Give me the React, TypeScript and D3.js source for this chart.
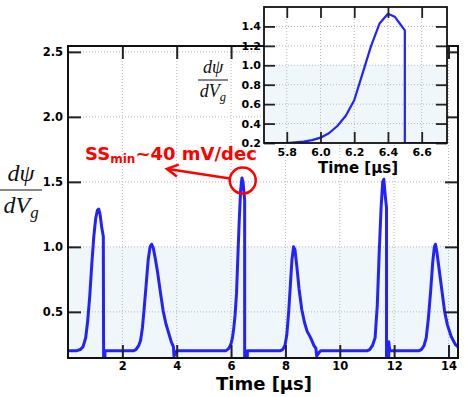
import React, { useEffect, useRef } from "react";
import * as d3 from "d3";

// main trace: time [us] and dpsi/dVg
const mainTime = [
  0, 0.3, 0.45, 0.55, 0.65, 0.72, 0.8, 0.88, 0.95, 1.02, 1.08, 1.13, 1.18, 1.24, 1.3, 1.31, 1.36, 1.36,
  2.4, 2.5, 2.6, 2.67, 2.74, 2.8, 2.88, 2.95, 3.02, 3.08, 3.14, 3.22, 3.3, 3.4, 3.5, 3.6, 3.7, 3.8, 3.88, 3.9, 3.95, 4.0,
  5.8, 5.9, 5.95, 6.0, 6.05, 6.1, 6.15, 6.2, 6.25, 6.3, 6.35, 6.4, 6.44, 6.47, 6.5, 6.5, 6.6, 6.6,
  7.8, 7.9, 7.98, 8.05, 8.12, 8.18, 8.24, 8.3, 8.35, 8.42, 8.5, 8.6, 8.7, 8.8, 8.93, 9.05, 9.12, 9.15, 9.25, 9.3,
  11.0, 11.1, 11.2, 11.3, 11.38, 11.45, 11.52, 11.58, 11.62, 11.67, 11.72, 11.72, 11.8, 11.8, 11.84,
  12.9, 13.0, 13.1, 13.18, 13.26, 13.34, 13.42, 13.48, 13.52, 13.58, 13.66, 13.76, 13.86, 13.96, 14.1, 14.25, 14.4,
];
const mainDpsi = [
  0.2, 0.2, 0.21, 0.23, 0.3, 0.42, 0.62, 0.88, 1.08, 1.22, 1.28, 1.29, 1.25, 1.15, 1.08, 0.15, 0.15, 0.2,
  0.2, 0.21, 0.24, 0.28, 0.38, 0.52, 0.72, 0.9, 1.0, 1.02, 0.99, 0.9, 0.8, 0.65, 0.51, 0.41, 0.34, 0.27, 0.23, 0.16, 0.18, 0.2,
  0.2, 0.215, 0.23, 0.255, 0.3, 0.375, 0.48, 0.64, 0.92, 1.2, 1.43, 1.53, 1.5, 1.43, 1.36, 0.15, 0.15, 0.2,
  0.2, 0.21, 0.24, 0.32, 0.5, 0.7, 0.9, 1.0, 0.98, 0.85, 0.68, 0.52, 0.42, 0.35, 0.3, 0.24, 0.22, 0.16, 0.19, 0.2,
  0.2, 0.21, 0.24, 0.3, 0.55, 0.95, 1.3, 1.5, 1.52, 1.4, 1.3, 0.15, 0.15, 0.27, 0.2,
  0.2, 0.21, 0.24, 0.3, 0.45, 0.65, 0.88, 1.0, 1.02, 0.95, 0.82, 0.66, 0.5, 0.4, 0.31, 0.25, 0.22,
];

// zoomed trace around the 6.4 us peak
const insetTime = [5.665, 5.8, 5.9, 5.95, 6.0, 6.05, 6.1, 6.15, 6.2, 6.25, 6.3, 6.35, 6.4, 6.44, 6.47, 6.5, 6.5, 6.75];
const insetDpsi = [0.2, 0.2, 0.215, 0.23, 0.255, 0.3, 0.375, 0.48, 0.64, 0.92, 1.2, 1.43, 1.53, 1.5, 1.43, 1.36, 0.2, 0.2];

const mainXTicks = [2, 4, 6, 8, 10, 12, 14];
const mainYTicks = [0.5, 1.0, 1.5, 2.0, 2.5];
const insetXTicks = [5.8, 6.0, 6.2, 6.4, 6.6];
const insetYTicks = [0.2, 0.4, 0.6, 0.8, 1.0, 1.2, 1.4];
const shadeLevel = 1.0;

// annotation: circled point, arrow tip, label anchor (data coords)
const circledPoint = [6.43, 1.51];
const arrowTip = [3.64, 1.6];
const labelAnchor = [0.63, 1.668];

const W = 466;
const H = 397;
const blue = "#2222ff";

function drawPanel(root, o) {
  const x = d3.scaleLinear().domain(o.xDomain).range([o.left, o.right]);
  const y = d3.scaleLinear().domain(o.yDomain).range([o.bottom, o.top]);
  const g = root.append("g");

  g.append("rect")
    .attr("x", o.left).attr("y", o.top)
    .attr("width", o.right - o.left).attr("height", o.bottom - o.top)
    .attr("fill", "#fff");

  // light shading below 1.0
  g.append("rect")
    .attr("x", o.left).attr("y", y(shadeLevel))
    .attr("width", o.right - o.left).attr("height", o.bottom - y(shadeLevel))
    .attr("fill", "#eff7fa");

  // dotted grid
  g.selectAll(".gx").data(o.xTicks).enter().append("line")
    .attr("x1", (d) => x(d)).attr("x2", (d) => x(d))
    .attr("y1", o.top).attr("y2", o.bottom)
    .attr("stroke", "#b8b8b8").attr("stroke-dasharray", "1,2");
  g.selectAll(".gy").data(o.yTicks).enter().append("line")
    .attr("x1", o.left).attr("x2", o.right)
    .attr("y1", (d) => y(d)).attr("y2", (d) => y(d))
    .attr("stroke", "#b8b8b8").attr("stroke-dasharray", "1,2");

  const clipId = "clip" + o.id;
  g.append("clipPath").attr("id", clipId).append("rect")
    .attr("x", o.left).attr("y", o.top)
    .attr("width", o.right - o.left).attr("height", o.bottom - o.top);

  const line = d3.line()
    .x((d) => x(d[0]))
    .y((d) => y(d[1]));
  g.append("path")
    .datum(o.t.map((t, i) => [t, o.v[i]]))
    .attr("clip-path", `url(#${clipId})`)
    .attr("d", line)
    .attr("fill", "none")
    .attr("stroke", blue)
    .attr("stroke-width", o.lw)
    .attr("stroke-linejoin", "round");

  const styleAxis = (sel) => {
    sel.select(".domain").remove();
    sel.selectAll("line").attr("stroke", "#222").attr("stroke-width", o.tw);
    sel.selectAll("text")
      .attr("font-family", "DejaVu Sans")
      .attr("font-weight", "bold")
      .attr("font-size", o.fs)
      .attr("fill", "#000");
  };

  g.append("g").attr("transform", `translate(0,${o.bottom})`)
    .call(d3.axisBottom(x).tickValues(o.xTicks).tickSize(-o.tl).tickPadding(o.padX).tickFormat(o.xFmt))
    .call(styleAxis);
  g.append("g").attr("transform", `translate(0,${o.top})`)
    .call(d3.axisTop(x).tickValues(o.xTicks).tickSize(-o.tl).tickFormat(() => ""))
    .call(styleAxis);
  g.append("g").attr("transform", `translate(${o.left},0)`)
    .call(d3.axisLeft(y).tickValues(o.yTicks).tickSize(-o.tl).tickPadding(o.padY).tickFormat(d3.format(".1f")))
    .call(styleAxis);
  g.append("g").attr("transform", `translate(${o.right},0)`)
    .call(d3.axisRight(y).tickValues(o.yTicks).tickSize(-o.tl).tickFormat(() => ""))
    .call(styleAxis);

  g.append("rect")
    .attr("x", o.left).attr("y", o.top)
    .attr("width", o.right - o.left).attr("height", o.bottom - o.top)
    .attr("fill", "none").attr("stroke", "#111").attr("stroke-width", o.fw);

  return { x, y };
}

function fracLabel(root, cx, yNum, yLine, yDen, halfW, fs) {
  const g = root.append("g")
    .attr("font-family", "Liberation Serif")
    .attr("font-style", "italic")
    .attr("font-size", fs)
    .attr("fill", "#111");
  g.append("text").attr("x", cx).attr("y", yNum).attr("text-anchor", "middle").text("dψ");
  g.append("line")
    .attr("x1", cx - halfW).attr("x2", cx + halfW)
    .attr("y1", yLine).attr("y2", yLine)
    .attr("stroke", "#111").attr("stroke-width", 1);
  const den = g.append("text").attr("x", cx).attr("y", yDen).attr("text-anchor", "middle");
  den.append("tspan").text("dV");
  den.append("tspan").attr("font-size", fs * 0.7).attr("dy", fs * 0.22).text("g");
}

export default function App() {
  const ref = useRef(null);

  useEffect(() => {
    const svg = d3.select(ref.current);
    svg.selectAll("*").remove();

    const main = drawPanel(svg, {
      id: "main", left: 68, right: 458, top: 46, bottom: 358,
      xDomain: [0, 14.35], yDomain: [0.145, 2.545],
      xTicks: mainXTicks, yTicks: mainYTicks, xFmt: d3.format("d"),
      t: mainTime, v: mainDpsi, lw: 3, tl: 13, tw: 2, fw: 2, fs: 11.5, padX: 4, padY: 5,
    });

    fracLabel(svg, 21, 181, 190, 213, 21, 24);

    svg.append("text")
      .attr("x", 264).attr("y", 390)
      .attr("text-anchor", "middle")
      .attr("font-family", "DejaVu Sans").attr("font-weight", "bold").attr("font-size", 18)
      .text("Time [μs]");

    // annotation
    const cx = main.x(circledPoint[0]);
    const cy = main.y(circledPoint[1]);
    const r = 13;
    svg.append("circle").attr("cx", cx).attr("cy", cy).attr("r", r)
      .attr("fill", "none").attr("stroke", "#ff0000").attr("stroke-width", 2.5);
    const tx = main.x(arrowTip[0]);
    const ty = main.y(arrowTip[1]);
    const dx = cx - tx, dy = cy - ty;
    const len = Math.hypot(dx, dy);
    const ux = dx / len, uy = dy / len;
    svg.append("line")
      .attr("x1", cx - ux * r).attr("y1", cy - uy * r)
      .attr("x2", tx + ux * 1).attr("y2", ty + uy * 1)
      .attr("stroke", "#ff0000").attr("stroke-width", 2.5);
    const bx = tx + ux * 11, by = ty + uy * 11;
    svg.append("path")
      .attr("d", `M${bx - uy * 6},${by + ux * 6}L${tx},${ty}L${bx + uy * 6},${by - ux * 6}`)
      .attr("fill", "none").attr("stroke", "#ff0000").attr("stroke-width", 2.5)
      .attr("stroke-linejoin", "miter");
    const lab = svg.append("text")
      .attr("x", main.x(labelAnchor[0])).attr("y", main.y(labelAnchor[1]))
      .attr("font-family", "DejaVu Sans").attr("font-weight", "bold").attr("font-size", 18)
      .attr("fill", "#ff0000");
    lab.append("tspan").text("SS");
    lab.append("tspan").attr("font-size", 12).attr("dy", 3).text("min");
    lab.append("tspan").attr("dy", -3).text("~40 mV/dec");

    // inset
    drawPanel(svg, {
      id: "inset", left: 264, right: 447, top: 7, bottom: 143,
      xDomain: [5.665, 6.75], yDomain: [0.2, 1.6],
      xTicks: insetXTicks, yTicks: insetYTicks, xFmt: d3.format(".1f"),
      t: insetTime, v: insetDpsi, lw: 2.2, tl: 11, tw: 1.8, fw: 1.8, fs: 11, padX: 5, padY: 3,
    });

    fracLabel(svg, 213, 73, 80, 97, 15, 18);

    svg.append("text")
      .attr("x", 358).attr("y", 173)
      .attr("text-anchor", "middle")
      .attr("font-family", "DejaVu Sans").attr("font-weight", "bold").attr("font-size", 15)
      .text("Time [μs]");
  }, []);

  return (
    <svg
      ref={ref}
      width={W}
      height={H}
      style={{ position: "absolute", left: 0, top: 0, background: "#fff" }}
    />
  );
}
